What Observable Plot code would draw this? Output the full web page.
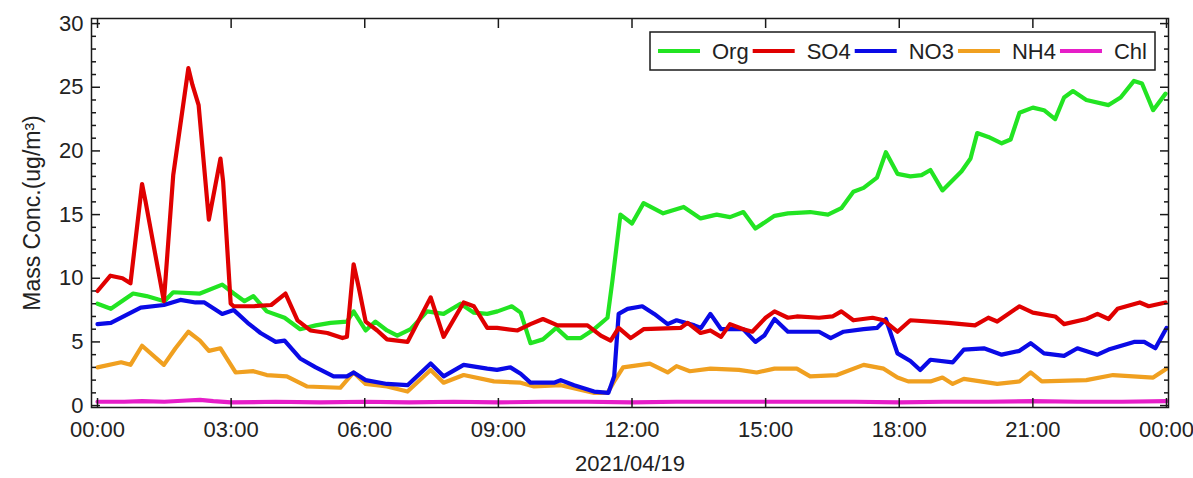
<!DOCTYPE html>
<html><head><meta charset="utf-8">
<script src="https://cdn.jsdelivr.net/npm/d3@7"></script>
<script src="https://cdn.jsdelivr.net/npm/@observablehq/plot@0.6"></script>
<style>
body{margin:0;background:#fff;}
#chart{width:1193px;height:478px;}
</style></head><body><div id="chart"></div>
<script>
const seriesNames = ["Org","SO4","NO3","NH4","Chl"];
const seriesColors = ["#22e422","#e00000","#0a0ae6","#f0a020","#e61ec8"];
const drawOrder = ["Org","NH4","NO3","SO4","Chl"];

// [hour of 2021/04/19, mass conc. ug/m3]
const org = [[0,8.0],[0.3,7.6],[0.8,8.8],[1.1,8.6],[1.5,8.2],[1.7,8.9],[2.3,8.8],[2.8,9.5],[3.06,8.8],[3.3,8.2],[3.5,8.6],[3.8,7.4],[4.2,6.9],[4.55,6.0],[4.9,6.3],[5.23,6.5],[5.6,6.6],[5.75,7.4],[6.02,5.9],[6.24,6.6],[6.5,5.9],[6.73,5.5],[7.03,6.0],[7.4,7.4],[7.77,7.2],[8.15,8.0],[8.45,7.3],[8.75,7.2],[8.98,7.4],[9.3,7.8],[9.5,7.3],[9.72,4.9],[10.0,5.2],[10.3,6.1],[10.55,5.3],[10.85,5.3],[11.15,6.0],[11.45,6.9],[11.56,9.8],[11.74,15.0],[12.0,14.3],[12.26,15.9],[12.7,15.1],[13.16,15.6],[13.54,14.7],[13.9,15.0],[14.2,14.8],[14.5,15.2],[14.77,13.9],[15.2,14.9],[15.5,15.1],[16.0,15.2],[16.4,15.0],[16.7,15.5],[16.97,16.8],[17.2,17.1],[17.5,17.9],[17.7,19.9],[17.96,18.2],[18.25,18.0],[18.5,18.1],[18.7,18.5],[18.97,16.9],[19.4,18.4],[19.6,19.4],[19.75,21.4],[20.0,21.1],[20.3,20.6],[20.5,20.9],[20.7,23.0],[21.0,23.4],[21.25,23.2],[21.5,22.5],[21.7,24.2],[21.9,24.7],[22.2,24.0],[22.7,23.6],[22.97,24.2],[23.27,25.5],[23.45,25.3],[23.7,23.2],[23.98,24.5]];
const so4 = [[0,9.0],[0.29,10.2],[0.56,10.0],[0.74,9.6],[1.0,17.4],[1.08,16.0],[1.49,8.2],[1.7,18.1],[2.04,26.5],[2.13,25.2],[2.27,23.6],[2.5,14.6],[2.76,19.4],[2.82,17.6],[2.99,8.0],[3.06,7.8],[3.5,7.8],[3.9,7.9],[4.22,8.8],[4.49,6.7],[4.78,5.9],[5.16,5.7],[5.5,5.3],[5.6,5.4],[5.75,11.1],[5.87,9.2],[6.02,6.6],[6.28,5.9],[6.5,5.2],[6.96,5.0],[7.48,8.5],[7.77,5.4],[8.22,8.1],[8.45,7.8],[8.75,6.1],[8.97,6.1],[9.43,5.9],[9.72,6.4],[10.0,6.8],[10.33,6.3],[11.0,6.3],[11.3,5.5],[11.52,5.1],[11.7,6.1],[11.97,5.3],[12.26,6.0],[13.09,6.1],[13.25,6.5],[13.54,5.7],[13.76,5.9],[14.0,5.4],[14.2,6.4],[14.5,6.0],[14.7,5.8],[15.0,6.9],[15.2,7.4],[15.5,6.9],[15.7,7.0],[16.2,6.9],[16.5,7.0],[16.7,7.4],[16.97,6.7],[17.4,6.9],[17.65,6.7],[17.96,5.8],[18.25,6.7],[19.1,6.5],[19.7,6.3],[20.0,6.9],[20.2,6.6],[20.7,7.8],[21.0,7.3],[21.5,7.0],[21.7,6.4],[22.2,6.8],[22.45,7.2],[22.7,6.8],[22.9,7.6],[23.4,8.1],[23.6,7.8],[23.98,8.1]];
const no3 = [[0,6.4],[0.3,6.5],[0.97,7.7],[1.49,7.9],[1.86,8.3],[2.2,8.1],[2.4,8.1],[2.8,7.2],[3.06,7.5],[3.37,6.5],[3.66,5.7],[4.0,5.0],[4.2,5.1],[4.55,3.7],[4.9,3.0],[5.3,2.3],[5.6,2.3],[5.75,2.6],[6.02,2.0],[6.5,1.7],[6.96,1.6],[7.48,3.3],[7.77,2.3],[8.22,3.2],[8.75,2.9],[8.97,2.8],[9.27,3.0],[9.5,2.5],[9.72,1.8],[10.25,1.8],[10.4,2.0],[10.7,1.6],[11.15,1.1],[11.47,1.0],[11.6,2.3],[11.7,7.2],[11.9,7.6],[12.23,7.8],[12.5,7.2],[12.8,6.4],[13.0,6.7],[13.4,6.3],[13.55,6.1],[13.76,7.2],[14.0,6.0],[14.5,6.0],[14.77,5.0],[14.97,5.5],[15.2,6.8],[15.5,5.8],[16.2,5.8],[16.46,5.3],[16.75,5.8],[17.2,6.0],[17.5,6.1],[17.7,6.8],[17.96,4.1],[18.25,3.5],[18.47,2.8],[18.7,3.6],[19.2,3.4],[19.45,4.4],[19.9,4.5],[20.3,4.0],[20.7,4.3],[20.95,4.9],[21.25,4.1],[21.7,3.9],[22.0,4.5],[22.45,4.0],[22.7,4.4],[23.27,5.0],[23.5,5.0],[23.75,4.5],[24.0,6.1]];
const nh4 = [[0,3.0],[0.53,3.4],[0.74,3.2],[1.0,4.7],[1.49,3.2],[1.75,4.5],[2.04,5.8],[2.3,5.1],[2.5,4.3],[2.76,4.5],[3.1,2.6],[3.5,2.7],[3.8,2.4],[4.25,2.3],[4.7,1.5],[5.45,1.4],[5.75,2.6],[6.02,1.7],[6.5,1.5],[6.96,1.1],[7.48,2.8],[7.77,1.8],[8.22,2.4],[8.9,1.9],[9.5,1.8],[9.8,1.5],[10.4,1.6],[11.15,1.0],[11.45,1.0],[11.6,1.9],[11.8,3.0],[12.4,3.3],[12.8,2.6],[13.0,3.1],[13.3,2.7],[13.76,2.9],[14.4,2.8],[14.8,2.6],[15.2,2.9],[15.7,2.9],[16.0,2.3],[16.6,2.4],[17.2,3.2],[17.65,2.9],[17.96,2.2],[18.2,1.9],[18.7,1.9],[18.97,2.2],[19.2,1.7],[19.45,2.1],[20.2,1.7],[20.7,1.9],[20.95,2.6],[21.2,1.9],[22.2,2.0],[22.8,2.4],[23.7,2.2],[24.0,2.9]];
const chl = [[0,0.3],[0.6,0.3],[1.0,0.35],[1.5,0.3],[2.0,0.4],[2.3,0.45],[2.6,0.35],[3.0,0.25],[4,0.3],[5,0.25],[6,0.3],[7,0.25],[8,0.3],[9,0.25],[10,0.3],[11,0.3],[12,0.25],[13,0.3],[14,0.3],[15,0.3],[16,0.3],[17,0.3],[18,0.25],[19,0.3],[20,0.3],[21,0.35],[22,0.3],[23,0.3],[24,0.35]];

const xTicks = [0,3,6,9,12,15,18,21,24];
const xTickLabels = ["00:00","03:00","06:00","09:00","12:00","15:00","18:00","21:00","00:00"];
const yMajor = [0,5,10,15,20,25,30];
const yMinor = [1,2,3,4,6,7,8,9,11,12,13,14,16,17,18,19,21,22,23,24,26,27,28,29];
const dateLabel = "2021/04/19";
const yLabel = "Mass Conc.(ug/m³)";

const bySeries = {Org: org, SO4: so4, NO3: no3, NH4: nh4, Chl: chl};
const rows = [];
for (const name of drawOrder) for (const [h, v] of bySeries[name]) rows.push({h, v, series: name});

const FONT = "'Liberation Sans', Arial, sans-serif";
const blank = () => "";
const plot = Plot.plot({
  width: 1193, height: 478,
  marginLeft: 91, marginRight: 25, marginTop: 18, marginBottom: 71,
  style: {fontFamily: FONT, fontSize: "22px", color: "#222", background: "#fff", overflow: "visible"},
  x: {domain: [-0.135, 24.045]},
  y: {domain: [-0.15, 30.4]},
  color: {domain: seriesNames, range: seriesColors},
  marks: [
    Plot.line(rows, {x: "h", y: "v", z: "series", stroke: "series", strokeWidth: 4.2, strokeLinejoin: "round"}),
    Plot.frame({stroke: "#1a1a1a", strokeWidth: 1.5}),
    Plot.axisX({ticks: xTicks, tickFormat: d => xTickLabels[xTicks.indexOf(d)], tickSize: -9, tickPadding: 23, label: null, stroke: "#1a1a1a", strokeWidth: 1.5}),
    Plot.axisX({anchor: "top", ticks: xTicks, tickFormat: blank, tickSize: -9, tickPadding: 0, label: null, stroke: "#1a1a1a", strokeWidth: 1.5}),
    Plot.axisY({ticks: yMajor, tickSize: -9, tickPadding: 17, label: null, stroke: "#1a1a1a", strokeWidth: 1.5}),
    Plot.axisY({ticks: yMinor, tickFormat: blank, tickSize: -5, tickPadding: 0, label: null, stroke: "#1a1a1a", strokeWidth: 1.5}),
    Plot.axisY({anchor: "right", ticks: yMajor, tickFormat: blank, tickSize: -9, tickPadding: 0, label: null, stroke: "#1a1a1a", strokeWidth: 1.5}),
    Plot.axisY({anchor: "right", ticks: yMinor, tickFormat: blank, tickSize: -5, tickPadding: 0, label: null, stroke: "#1a1a1a", strokeWidth: 1.5}),
    Plot.text([yLabel], {frameAnchor: "left", dx: -59, rotate: -90, text: d => d, fontSize: 23, fill: "#222", lineAnchor: "middle", textAnchor: "middle"}),
    Plot.text([dateLabel], {frameAnchor: "bottom", dy: 56, text: d => d, fontSize: 22, fill: "#222", lineAnchor: "middle"})
  ]
});
document.getElementById("chart").appendChild(plot);

// legend box inside the plot, top right
const svg = d3.select(plot);
const lg = svg.append("g").attr("font-family", FONT).attr("font-size", 22).attr("fill", "#222").attr("text-anchor", "start");
const box = lg.append("rect").attr("x", 650).attr("y", 32).attr("height", 38).attr("fill", "#fff").attr("stroke", "#1a1a1a").attr("stroke-width", 1.5);
let cx = 658;
seriesNames.forEach((name, i) => {
  lg.append("line").attr("x1", cx).attr("x2", cx + 42).attr("y1", 51).attr("y2", 51).attr("stroke", seriesColors[i]).attr("stroke-width", 4);
  const t = lg.append("text").attr("x", cx + 54).attr("y", 59).attr("text-anchor", "start").text(name);
  cx += 54 + t.node().getComputedTextLength() + 4;
});
box.attr("width", cx - 650 + 4);
</script></body></html>
